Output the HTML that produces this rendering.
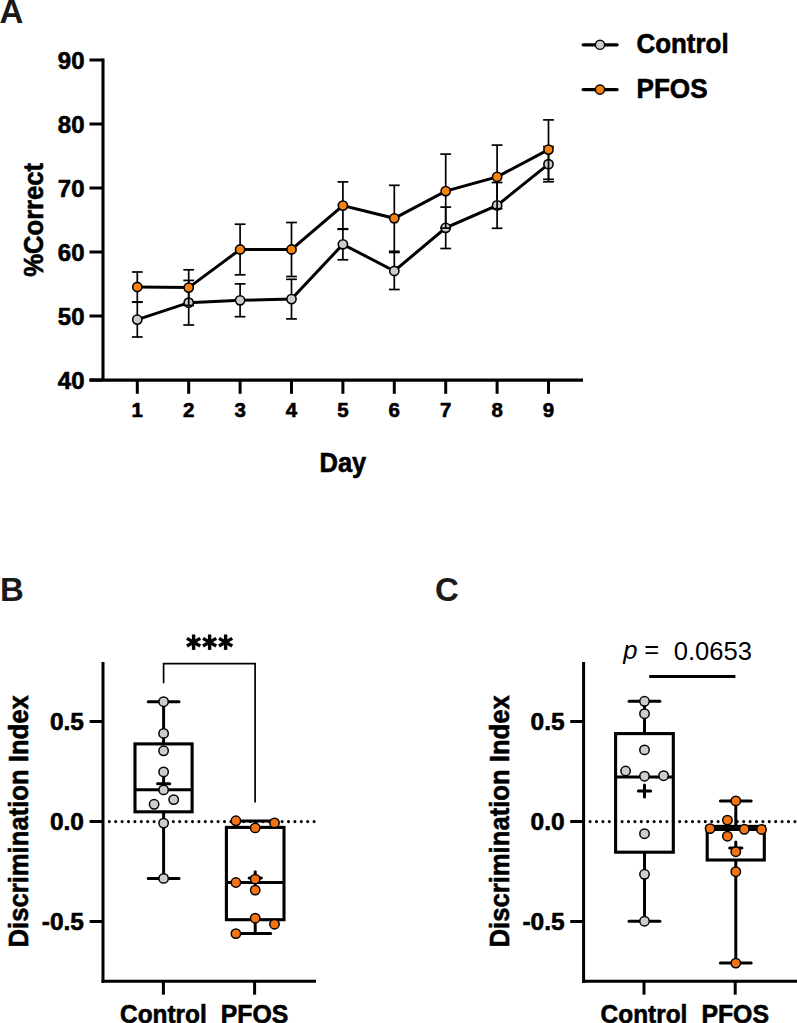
<!DOCTYPE html>
<html><head><meta charset="utf-8"><title>Figure</title>
<style>
html,body{margin:0;padding:0;background:#fff;}
svg{display:block;}
text{font-family:"Liberation Sans", sans-serif;fill:#000;stroke:#000;stroke-width:0.6px;stroke-linejoin:round;}
text.r{stroke-width:0;}
text.pl{stroke-width:0;fill:#1a1a1a;}
</style></head>
<body>
<svg width="797" height="1023" viewBox="0 0 797 1023">
<rect width="797" height="1023" fill="#fff"/>
<text x="-0.4" y="22.6" font-size="33" font-weight="bold" class="pl">A</text>
<line x1="103" y1="58.4" x2="103" y2="380.2" stroke="#000" stroke-width="3.1" stroke-linecap="butt" />
<line x1="89.5" y1="380.1" x2="583" y2="380.1" stroke="#000" stroke-width="3.2" stroke-linecap="butt" />
<line x1="89.5" y1="60" x2="103" y2="60" stroke="#000" stroke-width="3" stroke-linecap="butt" />
<text x="84.5" y="69.1" font-size="24" font-weight="bold" text-anchor="end" >90</text>
<line x1="89.5" y1="124" x2="103" y2="124" stroke="#000" stroke-width="3" stroke-linecap="butt" />
<text x="84.5" y="133.1" font-size="24" font-weight="bold" text-anchor="end" >80</text>
<line x1="89.5" y1="188" x2="103" y2="188" stroke="#000" stroke-width="3" stroke-linecap="butt" />
<text x="84.5" y="197.1" font-size="24" font-weight="bold" text-anchor="end" >70</text>
<line x1="89.5" y1="252" x2="103" y2="252" stroke="#000" stroke-width="3" stroke-linecap="butt" />
<text x="84.5" y="261.1" font-size="24" font-weight="bold" text-anchor="end" >60</text>
<line x1="89.5" y1="316" x2="103" y2="316" stroke="#000" stroke-width="3" stroke-linecap="butt" />
<text x="84.5" y="325.1" font-size="24" font-weight="bold" text-anchor="end" >50</text>
<line x1="89.5" y1="380" x2="103" y2="380" stroke="#000" stroke-width="3" stroke-linecap="butt" />
<text x="84.5" y="389.1" font-size="24" font-weight="bold" text-anchor="end" >40</text>
<line x1="137.3" y1="380" x2="137.3" y2="393.8" stroke="#000" stroke-width="3" stroke-linecap="butt" />
<text x="137.3" y="416.6" font-size="20.5" font-weight="bold" text-anchor="middle" >1</text>
<line x1="188.7" y1="380" x2="188.7" y2="393.8" stroke="#000" stroke-width="3" stroke-linecap="butt" />
<text x="188.7" y="416.6" font-size="20.5" font-weight="bold" text-anchor="middle" >2</text>
<line x1="240.1" y1="380" x2="240.1" y2="393.8" stroke="#000" stroke-width="3" stroke-linecap="butt" />
<text x="240.1" y="416.6" font-size="20.5" font-weight="bold" text-anchor="middle" >3</text>
<line x1="291.5" y1="380" x2="291.5" y2="393.8" stroke="#000" stroke-width="3" stroke-linecap="butt" />
<text x="291.5" y="416.6" font-size="20.5" font-weight="bold" text-anchor="middle" >4</text>
<line x1="342.9" y1="380" x2="342.9" y2="393.8" stroke="#000" stroke-width="3" stroke-linecap="butt" />
<text x="342.9" y="416.6" font-size="20.5" font-weight="bold" text-anchor="middle" >5</text>
<line x1="394.3" y1="380" x2="394.3" y2="393.8" stroke="#000" stroke-width="3" stroke-linecap="butt" />
<text x="394.3" y="416.6" font-size="20.5" font-weight="bold" text-anchor="middle" >6</text>
<line x1="445.7" y1="380" x2="445.7" y2="393.8" stroke="#000" stroke-width="3" stroke-linecap="butt" />
<text x="445.7" y="416.6" font-size="20.5" font-weight="bold" text-anchor="middle" >7</text>
<line x1="497.1" y1="380" x2="497.1" y2="393.8" stroke="#000" stroke-width="3" stroke-linecap="butt" />
<text x="497.1" y="416.6" font-size="20.5" font-weight="bold" text-anchor="middle" >8</text>
<line x1="548.5" y1="380" x2="548.5" y2="393.8" stroke="#000" stroke-width="3" stroke-linecap="butt" />
<text x="548.5" y="416.6" font-size="20.5" font-weight="bold" text-anchor="middle" >9</text>
<text x="342.9" y="472.4" font-size="27" font-weight="bold" text-anchor="middle"  textLength="46.75" lengthAdjust="spacingAndGlyphs">Day</text>
<text transform="translate(42.8,219.85) rotate(-90)" x="0" y="0" font-size="27" font-weight="bold" text-anchor="middle" textLength="114.04" lengthAdjust="spacingAndGlyphs">%Correct</text>
<polyline points="137.3,319.6 188.7,302.7 240.1,300.3 291.5,299.1 342.9,244.3 394.3,271 445.7,227.8 497.1,205.4 548.5,164.2" fill="none" stroke="#000" stroke-width="3" stroke-linejoin="miter"/>
<line x1="137.3" y1="302.2" x2="137.3" y2="337" stroke="#000" stroke-width="1.7" stroke-linecap="butt" />
<line x1="131.9" y1="302.2" x2="142.7" y2="302.2" stroke="#000" stroke-width="1.7" stroke-linecap="butt" />
<line x1="131.9" y1="337" x2="142.7" y2="337" stroke="#000" stroke-width="1.7" stroke-linecap="butt" />
<line x1="188.7" y1="280.4" x2="188.7" y2="325" stroke="#000" stroke-width="1.7" stroke-linecap="butt" />
<line x1="183.3" y1="280.4" x2="194.1" y2="280.4" stroke="#000" stroke-width="1.7" stroke-linecap="butt" />
<line x1="183.3" y1="325" x2="194.1" y2="325" stroke="#000" stroke-width="1.7" stroke-linecap="butt" />
<line x1="240.1" y1="283.9" x2="240.1" y2="316.7" stroke="#000" stroke-width="1.7" stroke-linecap="butt" />
<line x1="234.7" y1="283.9" x2="245.5" y2="283.9" stroke="#000" stroke-width="1.7" stroke-linecap="butt" />
<line x1="234.7" y1="316.7" x2="245.5" y2="316.7" stroke="#000" stroke-width="1.7" stroke-linecap="butt" />
<line x1="291.5" y1="279.3" x2="291.5" y2="318.9" stroke="#000" stroke-width="1.7" stroke-linecap="butt" />
<line x1="286.1" y1="279.3" x2="296.9" y2="279.3" stroke="#000" stroke-width="1.7" stroke-linecap="butt" />
<line x1="286.1" y1="318.9" x2="296.9" y2="318.9" stroke="#000" stroke-width="1.7" stroke-linecap="butt" />
<line x1="342.9" y1="228.8" x2="342.9" y2="259.8" stroke="#000" stroke-width="1.7" stroke-linecap="butt" />
<line x1="337.5" y1="228.8" x2="348.3" y2="228.8" stroke="#000" stroke-width="1.7" stroke-linecap="butt" />
<line x1="337.5" y1="259.8" x2="348.3" y2="259.8" stroke="#000" stroke-width="1.7" stroke-linecap="butt" />
<line x1="394.3" y1="252.5" x2="394.3" y2="289.5" stroke="#000" stroke-width="1.7" stroke-linecap="butt" />
<line x1="388.9" y1="252.5" x2="399.7" y2="252.5" stroke="#000" stroke-width="1.7" stroke-linecap="butt" />
<line x1="388.9" y1="289.5" x2="399.7" y2="289.5" stroke="#000" stroke-width="1.7" stroke-linecap="butt" />
<line x1="445.7" y1="207.1" x2="445.7" y2="248.5" stroke="#000" stroke-width="1.7" stroke-linecap="butt" />
<line x1="440.3" y1="207.1" x2="451.1" y2="207.1" stroke="#000" stroke-width="1.7" stroke-linecap="butt" />
<line x1="440.3" y1="248.5" x2="451.1" y2="248.5" stroke="#000" stroke-width="1.7" stroke-linecap="butt" />
<line x1="497.1" y1="182.5" x2="497.1" y2="228.3" stroke="#000" stroke-width="1.7" stroke-linecap="butt" />
<line x1="491.7" y1="182.5" x2="502.5" y2="182.5" stroke="#000" stroke-width="1.7" stroke-linecap="butt" />
<line x1="491.7" y1="228.3" x2="502.5" y2="228.3" stroke="#000" stroke-width="1.7" stroke-linecap="butt" />
<line x1="548.5" y1="146.6" x2="548.5" y2="181.8" stroke="#000" stroke-width="1.7" stroke-linecap="butt" />
<line x1="543.1" y1="146.6" x2="553.9" y2="146.6" stroke="#000" stroke-width="1.7" stroke-linecap="butt" />
<line x1="543.1" y1="181.8" x2="553.9" y2="181.8" stroke="#000" stroke-width="1.7" stroke-linecap="butt" />
<circle cx="137.3" cy="319.6" r="4.62" fill="#CDCDCD" stroke="#000" stroke-width="1.6"/>
<circle cx="188.7" cy="302.7" r="4.62" fill="#CDCDCD" stroke="#000" stroke-width="1.6"/>
<circle cx="240.1" cy="300.3" r="4.62" fill="#CDCDCD" stroke="#000" stroke-width="1.6"/>
<circle cx="291.5" cy="299.1" r="4.62" fill="#CDCDCD" stroke="#000" stroke-width="1.6"/>
<circle cx="342.9" cy="244.3" r="4.62" fill="#CDCDCD" stroke="#000" stroke-width="1.6"/>
<circle cx="394.3" cy="271" r="4.62" fill="#CDCDCD" stroke="#000" stroke-width="1.6"/>
<circle cx="445.7" cy="227.8" r="4.62" fill="#CDCDCD" stroke="#000" stroke-width="1.6"/>
<circle cx="497.1" cy="205.4" r="4.62" fill="#CDCDCD" stroke="#000" stroke-width="1.6"/>
<circle cx="548.5" cy="164.2" r="4.62" fill="#CDCDCD" stroke="#000" stroke-width="1.6"/>
<polyline points="137.3,287 188.7,287.6 240.1,249.5 291.5,249.5 342.9,205.6 394.3,218.3 445.7,191.1 497.1,176.9 548.5,149.6" fill="none" stroke="#000" stroke-width="3" stroke-linejoin="miter"/>
<line x1="137.3" y1="272" x2="137.3" y2="302" stroke="#000" stroke-width="1.7" stroke-linecap="butt" />
<line x1="131.9" y1="272" x2="142.7" y2="272" stroke="#000" stroke-width="1.7" stroke-linecap="butt" />
<line x1="131.9" y1="302" x2="142.7" y2="302" stroke="#000" stroke-width="1.7" stroke-linecap="butt" />
<line x1="188.7" y1="269.8" x2="188.7" y2="305.4" stroke="#000" stroke-width="1.7" stroke-linecap="butt" />
<line x1="183.3" y1="269.8" x2="194.1" y2="269.8" stroke="#000" stroke-width="1.7" stroke-linecap="butt" />
<line x1="183.3" y1="305.4" x2="194.1" y2="305.4" stroke="#000" stroke-width="1.7" stroke-linecap="butt" />
<line x1="240.1" y1="224.2" x2="240.1" y2="274.8" stroke="#000" stroke-width="1.7" stroke-linecap="butt" />
<line x1="234.7" y1="224.2" x2="245.5" y2="224.2" stroke="#000" stroke-width="1.7" stroke-linecap="butt" />
<line x1="234.7" y1="274.8" x2="245.5" y2="274.8" stroke="#000" stroke-width="1.7" stroke-linecap="butt" />
<line x1="291.5" y1="222.5" x2="291.5" y2="276.5" stroke="#000" stroke-width="1.7" stroke-linecap="butt" />
<line x1="286.1" y1="222.5" x2="296.9" y2="222.5" stroke="#000" stroke-width="1.7" stroke-linecap="butt" />
<line x1="286.1" y1="276.5" x2="296.9" y2="276.5" stroke="#000" stroke-width="1.7" stroke-linecap="butt" />
<line x1="342.9" y1="181.9" x2="342.9" y2="229.3" stroke="#000" stroke-width="1.7" stroke-linecap="butt" />
<line x1="337.5" y1="181.9" x2="348.3" y2="181.9" stroke="#000" stroke-width="1.7" stroke-linecap="butt" />
<line x1="337.5" y1="229.3" x2="348.3" y2="229.3" stroke="#000" stroke-width="1.7" stroke-linecap="butt" />
<line x1="394.3" y1="185.3" x2="394.3" y2="251.3" stroke="#000" stroke-width="1.7" stroke-linecap="butt" />
<line x1="388.9" y1="185.3" x2="399.7" y2="185.3" stroke="#000" stroke-width="1.7" stroke-linecap="butt" />
<line x1="388.9" y1="251.3" x2="399.7" y2="251.3" stroke="#000" stroke-width="1.7" stroke-linecap="butt" />
<line x1="445.7" y1="154.1" x2="445.7" y2="228.1" stroke="#000" stroke-width="1.7" stroke-linecap="butt" />
<line x1="440.3" y1="154.1" x2="451.1" y2="154.1" stroke="#000" stroke-width="1.7" stroke-linecap="butt" />
<line x1="440.3" y1="228.1" x2="451.1" y2="228.1" stroke="#000" stroke-width="1.7" stroke-linecap="butt" />
<line x1="497.1" y1="145.1" x2="497.1" y2="208.7" stroke="#000" stroke-width="1.7" stroke-linecap="butt" />
<line x1="491.7" y1="145.1" x2="502.5" y2="145.1" stroke="#000" stroke-width="1.7" stroke-linecap="butt" />
<line x1="491.7" y1="208.7" x2="502.5" y2="208.7" stroke="#000" stroke-width="1.7" stroke-linecap="butt" />
<line x1="548.5" y1="119.9" x2="548.5" y2="179.3" stroke="#000" stroke-width="1.7" stroke-linecap="butt" />
<line x1="543.1" y1="119.9" x2="553.9" y2="119.9" stroke="#000" stroke-width="1.7" stroke-linecap="butt" />
<line x1="543.1" y1="179.3" x2="553.9" y2="179.3" stroke="#000" stroke-width="1.7" stroke-linecap="butt" />
<circle cx="137.3" cy="287" r="4.62" fill="#F8820F" stroke="#000" stroke-width="1.6"/>
<circle cx="188.7" cy="287.6" r="4.62" fill="#F8820F" stroke="#000" stroke-width="1.6"/>
<circle cx="240.1" cy="249.5" r="4.62" fill="#F8820F" stroke="#000" stroke-width="1.6"/>
<circle cx="291.5" cy="249.5" r="4.62" fill="#F8820F" stroke="#000" stroke-width="1.6"/>
<circle cx="342.9" cy="205.6" r="4.62" fill="#F8820F" stroke="#000" stroke-width="1.6"/>
<circle cx="394.3" cy="218.3" r="4.62" fill="#F8820F" stroke="#000" stroke-width="1.6"/>
<circle cx="445.7" cy="191.1" r="4.62" fill="#F8820F" stroke="#000" stroke-width="1.6"/>
<circle cx="497.1" cy="176.9" r="4.62" fill="#F8820F" stroke="#000" stroke-width="1.6"/>
<circle cx="548.5" cy="149.6" r="4.62" fill="#F8820F" stroke="#000" stroke-width="1.6"/>
<line x1="583.1" y1="44.8" x2="617.1" y2="44.8" stroke="#000" stroke-width="3.2" stroke-linecap="round" />
<circle cx="600" cy="44.8" r="4.6" fill="#CDCDCD" stroke="#000" stroke-width="1.4"/>
<text x="636.5" y="53.4" font-size="26.8" font-weight="bold" text-anchor="start"  textLength="92.1" lengthAdjust="spacingAndGlyphs">Control</text>
<line x1="583.1" y1="89.6" x2="617.1" y2="89.6" stroke="#000" stroke-width="3.2" stroke-linecap="round" />
<circle cx="600" cy="89.6" r="4.6" fill="#F8820F" stroke="#000" stroke-width="1.4"/>
<text x="636.5" y="98.2" font-size="26.8" font-weight="bold" text-anchor="start"  textLength="71.1" lengthAdjust="spacingAndGlyphs">PFOS</text>
<text x="0.1" y="600.9" font-size="33" font-weight="bold" class="pl">B</text>
<line x1="103" y1="661.9" x2="103" y2="982.8" stroke="#000" stroke-width="3" stroke-linecap="butt" />
<line x1="101.5" y1="981.3" x2="316" y2="981.3" stroke="#000" stroke-width="3" stroke-linecap="butt" />
<line x1="89.6" y1="721.5" x2="103" y2="721.5" stroke="#000" stroke-width="3" stroke-linecap="butt" />
<text x="84" y="730.3" font-size="24.5" font-weight="bold" text-anchor="end" >0.5</text>
<line x1="89.6" y1="821.5" x2="103" y2="821.5" stroke="#000" stroke-width="3" stroke-linecap="butt" />
<text x="84" y="830.3" font-size="24.5" font-weight="bold" text-anchor="end" >0.0</text>
<line x1="89.6" y1="921.5" x2="103" y2="921.5" stroke="#000" stroke-width="3" stroke-linecap="butt" />
<text x="84" y="930.3" font-size="24.5" font-weight="bold" text-anchor="end" >-0.5</text>
<line x1="163.4" y1="981" x2="163.4" y2="994.7" stroke="#000" stroke-width="3" stroke-linecap="butt" />
<text x="163.4" y="1022.7" font-size="25.5" font-weight="bold" text-anchor="middle"  textLength="86.8" lengthAdjust="spacingAndGlyphs">Control</text>
<line x1="254.6" y1="981" x2="254.6" y2="994.7" stroke="#000" stroke-width="3" stroke-linecap="butt" />
<text x="254.6" y="1022.7" font-size="25.5" font-weight="bold" text-anchor="middle"  textLength="67.6" lengthAdjust="spacingAndGlyphs">PFOS</text>
<text transform="translate(28.3,821.35) rotate(-90)" x="0" y="0" font-size="27" font-weight="bold" text-anchor="middle" textLength="252.3" lengthAdjust="spacingAndGlyphs">Discrimination Index</text>
<line x1="109.3" y1="821.6" x2="316" y2="821.6" stroke="#000" stroke-width="3.1" stroke-linecap="round" stroke-dasharray="0 6.4"/>
<line x1="163.6" y1="701.7" x2="163.6" y2="743.9" stroke="#000" stroke-width="3" stroke-linecap="butt" />
<line x1="163.6" y1="811.8" x2="163.6" y2="878.4" stroke="#000" stroke-width="3" stroke-linecap="butt" />
<line x1="148.2" y1="701.7" x2="179" y2="701.7" stroke="#000" stroke-width="3" stroke-linecap="round" />
<line x1="148.2" y1="878.4" x2="179" y2="878.4" stroke="#000" stroke-width="3" stroke-linecap="round" />
<rect x="135" y="743.9" width="57.1" height="67.9" fill="none" stroke="#000" stroke-width="3.1"/>
<line x1="135" y1="789.8" x2="192.1" y2="789.8" stroke="#000" stroke-width="3" stroke-linecap="butt" />
<line x1="157.5" y1="783.7" x2="169.7" y2="783.7" stroke="#000" stroke-width="3" stroke-linecap="round" />
<line x1="163.6" y1="777.6" x2="163.6" y2="789.8" stroke="#000" stroke-width="3" stroke-linecap="round" />
<circle cx="163.6" cy="701.7" r="4.7" fill="#CDCDCD" stroke="#000" stroke-width="1.5"/>
<circle cx="163.6" cy="733.4" r="4.7" fill="#CDCDCD" stroke="#000" stroke-width="1.5"/>
<circle cx="163.6" cy="750.8" r="4.7" fill="#CDCDCD" stroke="#000" stroke-width="1.5"/>
<circle cx="163.6" cy="771.9" r="4.7" fill="#CDCDCD" stroke="#000" stroke-width="1.5"/>
<circle cx="163.6" cy="789.9" r="4.7" fill="#CDCDCD" stroke="#000" stroke-width="1.5"/>
<circle cx="173.7" cy="799.6" r="4.7" fill="#CDCDCD" stroke="#000" stroke-width="1.5"/>
<circle cx="154.1" cy="804.3" r="4.7" fill="#CDCDCD" stroke="#000" stroke-width="1.5"/>
<circle cx="163.6" cy="823.1" r="4.7" fill="#CDCDCD" stroke="#000" stroke-width="1.5"/>
<circle cx="163.6" cy="878.4" r="4.7" fill="#CDCDCD" stroke="#000" stroke-width="1.5"/>
<line x1="255.2" y1="821" x2="255.2" y2="827.4" stroke="#000" stroke-width="3" stroke-linecap="butt" />
<line x1="255.2" y1="919.7" x2="255.2" y2="933.4" stroke="#000" stroke-width="3" stroke-linecap="butt" />
<line x1="239.8" y1="821" x2="270.6" y2="821" stroke="#000" stroke-width="3" stroke-linecap="round" />
<line x1="239.8" y1="933.4" x2="270.6" y2="933.4" stroke="#000" stroke-width="3" stroke-linecap="round" />
<rect x="226.4" y="827.4" width="57.6" height="92.3" fill="none" stroke="#000" stroke-width="3.1"/>
<line x1="226.4" y1="882.6" x2="284" y2="882.6" stroke="#000" stroke-width="3" stroke-linecap="butt" />
<line x1="249.1" y1="877.9" x2="261.3" y2="877.9" stroke="#000" stroke-width="3" stroke-linecap="round" />
<line x1="255.2" y1="871.8" x2="255.2" y2="884" stroke="#000" stroke-width="3" stroke-linecap="round" />
<circle cx="235.9" cy="820.8" r="4.7" fill="#F47314" stroke="#000" stroke-width="1.5"/>
<circle cx="274.5" cy="822.9" r="4.7" fill="#F47314" stroke="#000" stroke-width="1.5"/>
<circle cx="255.2" cy="827.9" r="4.7" fill="#F47314" stroke="#000" stroke-width="1.5"/>
<circle cx="255.2" cy="879.1" r="4.7" fill="#F47314" stroke="#000" stroke-width="1.5"/>
<circle cx="235.9" cy="882.5" r="4.7" fill="#F47314" stroke="#000" stroke-width="1.5"/>
<circle cx="255.2" cy="890.1" r="4.7" fill="#F47314" stroke="#000" stroke-width="1.5"/>
<circle cx="255.2" cy="918.2" r="4.7" fill="#F47314" stroke="#000" stroke-width="1.5"/>
<circle cx="274.5" cy="924.2" r="4.7" fill="#F47314" stroke="#000" stroke-width="1.5"/>
<circle cx="235.9" cy="933.6" r="4.7" fill="#F47314" stroke="#000" stroke-width="1.5"/>
<rect x="185.9" y="640.5" width="15.4" height="3.4" fill="#000" transform="rotate(90 193.6 642.2)"/>
<rect x="185.9" y="640.5" width="15.4" height="3.4" fill="#000" transform="rotate(30 193.6 642.2)"/>
<rect x="185.9" y="640.5" width="15.4" height="3.4" fill="#000" transform="rotate(-30 193.6 642.2)"/>
<rect x="201.9" y="640.5" width="15.4" height="3.4" fill="#000" transform="rotate(90 209.6 642.2)"/>
<rect x="201.9" y="640.5" width="15.4" height="3.4" fill="#000" transform="rotate(30 209.6 642.2)"/>
<rect x="201.9" y="640.5" width="15.4" height="3.4" fill="#000" transform="rotate(-30 209.6 642.2)"/>
<rect x="217.9" y="640.5" width="15.4" height="3.4" fill="#000" transform="rotate(90 225.6 642.2)"/>
<rect x="217.9" y="640.5" width="15.4" height="3.4" fill="#000" transform="rotate(30 225.6 642.2)"/>
<rect x="217.9" y="640.5" width="15.4" height="3.4" fill="#000" transform="rotate(-30 225.6 642.2)"/>
<polyline points="163.6,683.3 163.6,663.6 255.1,663.6 255.1,802.6" fill="none" stroke="#000" stroke-width="1.7"/>
<text x="435" y="600.9" font-size="33" font-weight="bold" class="pl">C</text>
<line x1="583.6" y1="661.9" x2="583.6" y2="982.8" stroke="#000" stroke-width="3" stroke-linecap="butt" />
<line x1="582.1" y1="981.3" x2="797" y2="981.3" stroke="#000" stroke-width="3" stroke-linecap="butt" />
<line x1="570.2" y1="721.5" x2="583.6" y2="721.5" stroke="#000" stroke-width="3" stroke-linecap="butt" />
<text x="564.6" y="730.3" font-size="24.5" font-weight="bold" text-anchor="end" >0.5</text>
<line x1="570.2" y1="821.5" x2="583.6" y2="821.5" stroke="#000" stroke-width="3" stroke-linecap="butt" />
<text x="564.6" y="830.3" font-size="24.5" font-weight="bold" text-anchor="end" >0.0</text>
<line x1="570.2" y1="921.5" x2="583.6" y2="921.5" stroke="#000" stroke-width="3" stroke-linecap="butt" />
<text x="564.6" y="930.3" font-size="24.5" font-weight="bold" text-anchor="end" >-0.5</text>
<line x1="644" y1="981" x2="644" y2="994.7" stroke="#000" stroke-width="3" stroke-linecap="butt" />
<text x="644" y="1022.7" font-size="25.5" font-weight="bold" text-anchor="middle"  textLength="86.8" lengthAdjust="spacingAndGlyphs">Control</text>
<line x1="735.2" y1="981" x2="735.2" y2="994.7" stroke="#000" stroke-width="3" stroke-linecap="butt" />
<text x="735.2" y="1022.7" font-size="25.5" font-weight="bold" text-anchor="middle"  textLength="67.6" lengthAdjust="spacingAndGlyphs">PFOS</text>
<text transform="translate(508.9,821.35) rotate(-90)" x="0" y="0" font-size="27" font-weight="bold" text-anchor="middle" textLength="252.3" lengthAdjust="spacingAndGlyphs">Discrimination Index</text>
<line x1="590.1" y1="821.6" x2="797" y2="821.6" stroke="#000" stroke-width="3.1" stroke-linecap="round" stroke-dasharray="0 6.4"/>
<line x1="644.5" y1="701.3" x2="644.5" y2="733.6" stroke="#000" stroke-width="3" stroke-linecap="butt" />
<line x1="644.5" y1="852.2" x2="644.5" y2="921.2" stroke="#000" stroke-width="3" stroke-linecap="butt" />
<line x1="629.1" y1="701.3" x2="659.9" y2="701.3" stroke="#000" stroke-width="3" stroke-linecap="round" />
<line x1="629.1" y1="921.2" x2="659.9" y2="921.2" stroke="#000" stroke-width="3" stroke-linecap="round" />
<rect x="615.6" y="733.6" width="57.7" height="118.6" fill="none" stroke="#000" stroke-width="3.1"/>
<line x1="615.6" y1="777.1" x2="673.3" y2="777.1" stroke="#000" stroke-width="3" stroke-linecap="butt" />
<line x1="638.4" y1="791" x2="650.6" y2="791" stroke="#000" stroke-width="3" stroke-linecap="round" />
<line x1="644.5" y1="784.9" x2="644.5" y2="797.1" stroke="#000" stroke-width="3" stroke-linecap="round" />
<circle cx="644.5" cy="701.3" r="4.7" fill="#CDCDCD" stroke="#000" stroke-width="1.5"/>
<circle cx="644.5" cy="713.7" r="4.7" fill="#CDCDCD" stroke="#000" stroke-width="1.5"/>
<circle cx="644.5" cy="749.9" r="4.7" fill="#CDCDCD" stroke="#000" stroke-width="1.5"/>
<circle cx="625.6" cy="771" r="4.7" fill="#CDCDCD" stroke="#000" stroke-width="1.5"/>
<circle cx="644.5" cy="776.2" r="4.7" fill="#CDCDCD" stroke="#000" stroke-width="1.5"/>
<circle cx="663.6" cy="775.7" r="4.7" fill="#CDCDCD" stroke="#000" stroke-width="1.5"/>
<circle cx="644.5" cy="833.7" r="4.7" fill="#CDCDCD" stroke="#000" stroke-width="1.5"/>
<circle cx="644.5" cy="874.3" r="4.7" fill="#CDCDCD" stroke="#000" stroke-width="1.5"/>
<circle cx="644.5" cy="921.2" r="4.7" fill="#CDCDCD" stroke="#000" stroke-width="1.5"/>
<line x1="735.8" y1="800.9" x2="735.8" y2="826.4" stroke="#000" stroke-width="3" stroke-linecap="butt" />
<line x1="735.8" y1="860" x2="735.8" y2="963.1" stroke="#000" stroke-width="3" stroke-linecap="butt" />
<line x1="720.4" y1="800.9" x2="751.2" y2="800.9" stroke="#000" stroke-width="3" stroke-linecap="round" />
<line x1="720.4" y1="963.1" x2="751.2" y2="963.1" stroke="#000" stroke-width="3" stroke-linecap="round" />
<rect x="707.2" y="826.4" width="57.1" height="33.6" fill="none" stroke="#000" stroke-width="3.1"/>
<line x1="707.2" y1="829.5" x2="764.3" y2="829.5" stroke="#000" stroke-width="3" stroke-linecap="butt" />
<line x1="729.7" y1="848" x2="741.9" y2="848" stroke="#000" stroke-width="3" stroke-linecap="round" />
<line x1="735.8" y1="841.9" x2="735.8" y2="854.1" stroke="#000" stroke-width="3" stroke-linecap="round" />
<circle cx="735.8" cy="800.9" r="4.7" fill="#F47314" stroke="#000" stroke-width="1.5"/>
<circle cx="727.4" cy="820.1" r="4.7" fill="#F47314" stroke="#000" stroke-width="1.5"/>
<circle cx="710.1" cy="828.6" r="4.7" fill="#F47314" stroke="#000" stroke-width="1.5"/>
<circle cx="744.3" cy="829.3" r="4.7" fill="#F47314" stroke="#000" stroke-width="1.5"/>
<circle cx="761.5" cy="829.5" r="4.7" fill="#F47314" stroke="#000" stroke-width="1.5"/>
<circle cx="727.4" cy="836.2" r="4.7" fill="#F47314" stroke="#000" stroke-width="1.5"/>
<circle cx="735.8" cy="851.7" r="4.7" fill="#F47314" stroke="#000" stroke-width="1.5"/>
<circle cx="735.8" cy="871.7" r="4.7" fill="#F47314" stroke="#000" stroke-width="1.5"/>
<circle cx="735.8" cy="963.1" r="4.7" fill="#F47314" stroke="#000" stroke-width="1.5"/>
<text x="623.2" y="659.1" font-size="25.6" font-style="italic" class="r">p</text>
<text x="644.2" y="657.6" font-size="25.6" class="r">=</text>
<text x="673.7" y="659.5" font-size="25.6" class="r">0.0653</text>
<line x1="649.2" y1="676.4" x2="735.4" y2="676.4" stroke="#000" stroke-width="3" stroke-linecap="butt" />
</svg>
</body></html>
